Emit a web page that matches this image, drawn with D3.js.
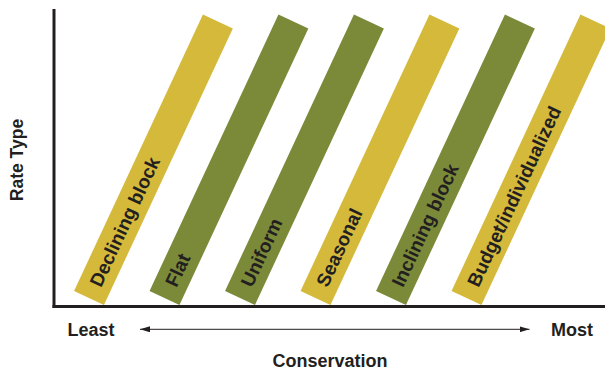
<!DOCTYPE html>
<html>
<head>
<meta charset="utf-8">
<script src="https://cdn.jsdelivr.net/npm/d3@7"></script>
<style>
  html, body { margin: 0; padding: 0; background: #fff; }
  svg { display: block; }
  text { font-family: "Liberation Sans", Arial, Helvetica, sans-serif; font-weight: bold; fill: #231f20; }
</style>
</head>
<body>
<svg id="chart" width="605" height="373"></svg>
<script>
// Rate structures ordered from least to most conservation-oriented
const rateTypes = ["Declining block", "Flat", "Uniform", "Seasonal", "Inclining block", "Budget/individualized"];
// Shade group of each bar (0 = gold, 1 = olive)
const shadeGroup = [0, 1, 1, 0, 1, 0];
// Every bar spans the full rate-type axis
const barExtent = [0, 1];
const conservationEnds = ["Least", "Most"];
const axisTitles = { x: "Conservation", y: "Rate Type" };

const svg = d3.select("#chart");
const W = 605, H = 373;

const axisLeftX = 54, axisBottomY = 306.5, axisTopY = 9;
const tilt = 25;          // bar lean, degrees clockwise from vertical
const barWidth = 33;
const barLength = 305;

// Position of each bar's base along the conservation axis
const x = d3.scalePoint().domain(rateTypes).range([89, 466.5]);
// Distance along a bar's own axis
const along = d3.scaleLinear().domain(barExtent).range([0, barLength]);
const color = d3.scaleOrdinal().domain([0, 1]).range(["#d5b93b", "#7a8a39"]);

const baseY = 298;

const bars = svg.append("g").selectAll("g")
  .data(rateTypes.map((name, i) => ({ name, group: shadeGroup[i] })))
  .join("g")
  .attr("transform", d => `translate(${x(d.name)},${baseY}) rotate(${tilt})`);

bars.append("rect")
  .attr("x", -barWidth / 2)
  .attr("y", -along(barExtent[1]))
  .attr("width", barWidth)
  .attr("height", along(barExtent[1]) - along(barExtent[0]))
  .attr("fill", d => color(d.group));

bars.append("text")
  .attr("transform", "rotate(-90)")
  .attr("x", 14)
  .attr("y", 0)
  .attr("dy", "0.36em")
  .attr("font-size", 19)
  .text(d => d.name);

// Axes
svg.append("line")
  .attr("x1", axisLeftX).attr("x2", axisLeftX)
  .attr("y1", axisTopY).attr("y2", axisBottomY + 1.5)
  .attr("stroke", "#231f20").attr("stroke-width", 3);
svg.append("line")
  .attr("x1", axisLeftX - 1.5).attr("x2", W)
  .attr("y1", axisBottomY).attr("y2", axisBottomY)
  .attr("stroke", "#231f20").attr("stroke-width", 3);

// Double-headed conservation arrow
const defs = svg.append("defs");
defs.append("marker")
  .attr("id", "head")
  .attr("viewBox", "0 0 10 6")
  .attr("refX", 10).attr("refY", 3)
  .attr("markerWidth", 10).attr("markerHeight", 6)
  .attr("markerUnits", "userSpaceOnUse")
  .attr("orient", "auto-start-reverse")
  .append("path").attr("d", "M0,0 L10,3 L0,6 Z").attr("fill", "#231f20");

const arrowY = 329.3;
svg.append("line")
  .attr("x1", 140).attr("x2", 529.5)
  .attr("y1", arrowY).attr("y2", arrowY)
  .attr("stroke", "#231f20").attr("stroke-width", 1)
  .attr("marker-start", "url(#head)")
  .attr("marker-end", "url(#head)");

svg.append("text").attr("x", 67.5).attr("y", 335.7)
  .attr("font-size", 18).text(conservationEnds[0]);
svg.append("text").attr("x", 593).attr("y", 335.7)
  .attr("text-anchor", "end").attr("font-size", 18).text(conservationEnds[1]);
svg.append("text").attr("x", 330).attr("y", 367.3)
  .attr("text-anchor", "middle").attr("font-size", 18).text(axisTitles.x);
svg.append("text")
  .attr("transform", "translate(23,160) rotate(-90)")
  .attr("text-anchor", "middle").attr("font-size", 17.5).text(axisTitles.y);
</script>
</body>
</html>
